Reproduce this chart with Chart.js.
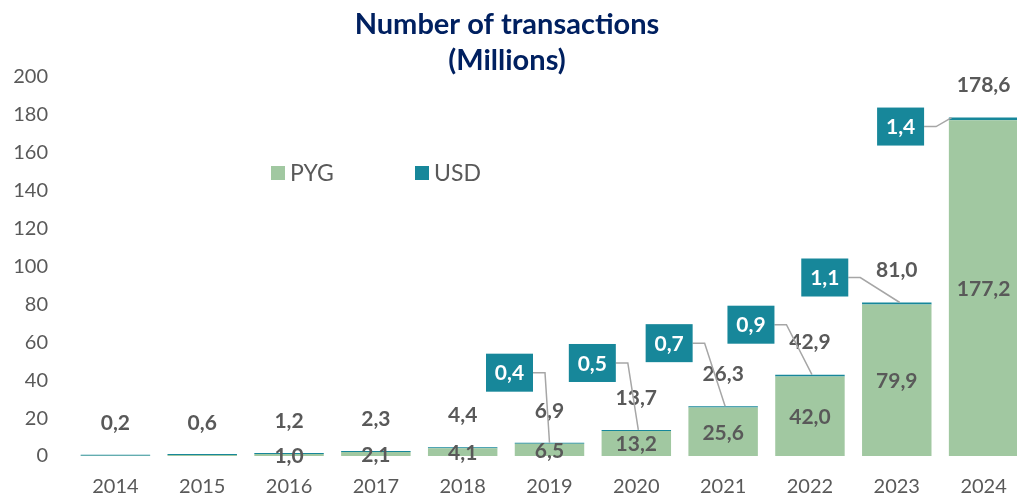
<!DOCTYPE html>
<html>
<head>
<meta charset="utf-8">
<script src="https://cdn.jsdelivr.net/npm/chart.js@4.4.1/dist/chart.umd.min.js"></script>
<style>
  html, body { margin: 0; padding: 0; overflow: hidden; background: #fff; }
  #wrap { width: 1030px; height: 498px; position: relative; }
</style>
</head>
<body>
<div id="wrap"><canvas id="chart"></canvas></div>
<script>
// data (millions of transactions)
const years = ['2014', '2015', '2016', '2017', '2018', '2019', '2020', '2021', '2022', '2023', '2024'];
const pyg = [0.1, 0.5, 1.0, 2.1, 4.1, 6.5, 13.2, 25.6, 42.0, 79.9, 177.2];
const usd = [0.1, 0.1, 0.2, 0.2, 0.3, 0.4, 0.5, 0.7, 0.9, 1.1, 1.4];
const totals = [0.2, 0.6, 1.2, 2.3, 4.4, 6.9, 13.7, 26.3, 42.9, 81.0, 178.6];

const GREEN = '#a1c8a1';
const TEAL = '#17879a';
const GREY = '#595959';

// callout boxes for USD: [dx, dy] of box centre from top of bar, endDx = where leader meets the bar
const callouts = {
  5: [-40, -70, 0],
  6: [-44, -67, 2],
  7: [-54, -63, 2],
  8: [-59, -50, 2],
  9: [-72, -25, 3],
  10: [-83, 9, -32]
};

const fmt = v => v.toFixed(1).replace('.', ',');

Chart.defaults.font.family = 'Lato';

const labelsPlugin = {
  id: 'labels',
  afterDatasetsDraw(chart) {
    const ctx = chart.ctx;
    const pMeta = chart.getDatasetMeta(0);
    const uMeta = chart.getDatasetMeta(1);
    const y = chart.scales.y;
    ctx.save();
    ctx.textAlign = 'center';
    ctx.textBaseline = 'middle';
    ctx.font = 'bold 21px Lato';
    ctx.fillStyle = GREY;
    years.forEach((yr, i) => {
      const bar = pMeta.data[i];
      const top = y.getPixelForValue(totals[i]);
      // pyg inside bar
      if (i >= 2) {
        ctx.fillText(fmt(pyg[i]), bar.x, (bar.y + bar.base) / 2 + 1);
      }
      // total above
      ctx.fillText(fmt(totals[i]), bar.x, top - 32);
    });

    // usd callouts
    Object.keys(callouts).forEach(k => {
      const i = +k;
      const [dx, dy, endDx] = callouts[k];
      const bar = uMeta.data[i];
      const top = bar.y;
      const cx = bar.x + dx, cy = top + dy;
      const w = 47, h = 38;
      ctx.strokeStyle = '#a6a6a6';
      ctx.lineWidth = 1.5;
      ctx.beginPath();
      ctx.moveTo(cx + w / 2, cy);
      ctx.lineTo(cx + w / 2 + 12, cy);
      ctx.lineTo(bar.x + endDx, top);
      ctx.stroke();
      ctx.fillStyle = TEAL;
      ctx.fillRect(cx - w / 2, cy - h / 2, w, h);
      ctx.fillStyle = '#fff';
      ctx.fillText(fmt(usd[i]), cx, cy + 1);
    });
    ctx.restore();
  },
  afterDraw(chart) {
    const ctx = chart.ctx;
    const a = chart.chartArea;
    ctx.save();
    // title
    ctx.fillStyle = '#002060';
    ctx.font = 'bold 29px Lato';
    ctx.textAlign = 'center';
    ctx.textBaseline = 'middle';
    ctx.fillText('Number of transactions', 507, 25);
    ctx.fillText('(Millions)', 507, 61);
    // legend
    ctx.font = '23px Lato';
    ctx.textAlign = 'left';
    const lx = a.left + 199, ly = a.top + 96;
    [['PYG', GREEN, 0], ['USD', TEAL, 144]].forEach(([t, c, off]) => {
      ctx.fillStyle = c;
      ctx.fillRect(lx + off, ly - 7, 14, 14);
      ctx.fillStyle = GREY;
      ctx.fillText(t, lx + off + 19, ly + 1);
    });
    ctx.restore();
  }
};

new Chart(document.getElementById('chart'), {
  type: 'bar',
  data: {
    labels: years,
    datasets: [
      {
        label: 'PYG',
        data: pyg,
        backgroundColor: GREEN,
        borderWidth: 0,
        categoryPercentage: 0.8,
        barPercentage: 1
      },
      {
        label: 'USD',
        data: usd,
        backgroundColor: TEAL,
        borderWidth: 0,
        minBarLength: 1,
        categoryPercentage: 0.8,
        barPercentage: 1
      }
    ]
  },
  options: {
    responsive: true,
    maintainAspectRatio: false,
    animation: false,
    layout: { padding: { top: 77, left: 13, right: 3, bottom: 0 } },
    plugins: {
      legend: { display: false },
      title: { display: false },
      tooltip: { enabled: false }
    },
    scales: {
      x: {
        stacked: true,
        grid: { display: false },
        border: { display: false },
        ticks: { color: GREY, font: { size: 20 }, padding: 11 },
        afterFit: s => { s.height = 42; }
      },
      y: {
        stacked: true,
        min: 0,
        max: 200,
        grid: { display: false, drawTicks: false },
        border: { display: false },
        ticks: { stepSize: 20, color: GREY, font: { size: 20 }, padding: 24 },
        afterFit: s => { s.width = 59; }
      }
    }
  },
  plugins: [labelsPlugin]
});
</script>
</body>
</html>
